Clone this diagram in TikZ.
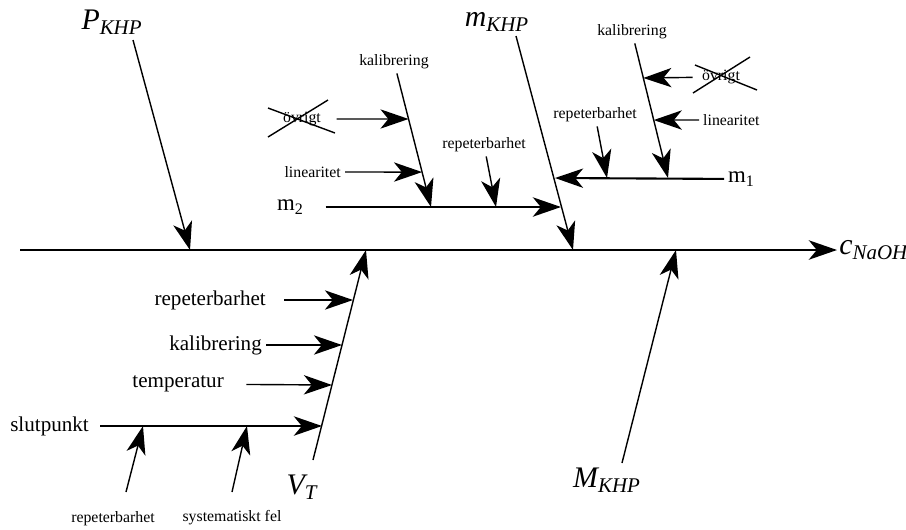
\documentclass[tikz,border=0pt]{standalone}
\usepackage{fontspec}
\setmainfont{Liberation Serif}
\usetikzlibrary{arrows.meta, calc}

\begin{document}
\begin{tikzpicture}[
    x=0.02cm, y=-0.02cm,
    line width=0.8pt,
    cause/.style={-{Stealth[length=16pt, width=11pt, inset=4.5pt]}},
    axis/.style={line width=1.4pt},
    thickline/.style={line width=1.2pt},
    eff/.style={font=\fontsize{17}{20}\selectfont\itshape, inner sep=1pt},
    lbl/.style={font=\fontsize{12}{14}\selectfont, inner sep=2pt},
    mlbl/.style={font=\fontsize{13}{15}\selectfont, inner sep=2pt},
    slbl/.style={font=\fontsize{9}{11}\selectfont, inner sep=2pt}
]
    \useasboundingbox (0,0) rectangle (906,529);

    % ================= EFFECTS =================
    \node[eff] (P)  at (112,22)  {P\textsubscript{KHP}};
    \node[eff] (mK) at (497,22)  {m\textsubscript{KHP}};
    \node[eff] (VT) at (302,487) {V\textsubscript{T}};
    \node[eff] (MK) at (607,480) {M\textsubscript{KHP}};
    \node[eff, anchor=west] (c) at (837,250) {c\textsubscript{NaOH}};

    \coordinate (axL) at (20,250);
    \coordinate (pT) at (133,40);  \coordinate (pH) at (190,250);
    \coordinate (mT) at (516,36);  \coordinate (mH) at (573,250);
    \coordinate (vT) at (313,460); \coordinate (vH) at (366,250);
    \coordinate (MT) at (622,463); \coordinate (MH) at (676,250);

    % ================= MAIN LINE =================
    \draw[axis, cause] (axL) -- (c.west);
    \draw[cause] (pT) -- (pH);
    \draw[cause] (mT) -- (mH);
    \draw[cause] (vT) -- (vH);
    \draw[cause] (MT) -- (MH);

    % ================= V_T BRANCH =================
    \coordinate (vRep)  at (353,300);
    \coordinate (vKal)  at (342,345);
    \coordinate (vTemp) at (332,385);
    \coordinate (vSlut) at (322,426);

    \node[lbl, anchor=east] (rep3) at (270,300) {repeterbarhet};
    \node[lbl, anchor=east] (kal3) at (266,345) {kalibrering};
    \node[lbl, anchor=east] (temp) at (228,384) {temperatur};
    \node[lbl, anchor=east] (slut) at (93,426)  {slutpunkt};

    \draw[cause, shorten <=8pt] (rep3) -- (vRep);
    \draw[cause] (kal3) -- (vKal);
    \draw[cause, shorten <=10.5pt] (temp) -- (vTemp);
    \draw[cause, thickline, shorten <=4pt] (slut) -- (vSlut);

    % slutpunkt
    \node[slbl] (sRep) at (113,519) {repeterbarhet};
    \node[slbl] (sSys) at (232,518) {systematiskt fel};
    \coordinate (sRepT) at (126,492); \coordinate (sRepH) at (143,426);
    \coordinate (sSysT) at (232,492); \coordinate (sSysH) at (247,426);
    \draw[cause] (sRepT) -- (sRepH);
    \draw[cause] (sSysT) -- (sSysH);

    % ================= m_KHP BRANCH (m_2) =================
    \coordinate (m2H) at (561,207);
    \node[mlbl, anchor=east] (m2) at (308,207) {m\textsubscript{2}};
    \draw[cause, thickline, shorten <=10pt] (m2) -- (m2H);

    \node[slbl] (kal1) at (394,62) {kalibrering};
    \coordinate (k1H) at (431,207);
    \draw[cause] (kal1) -- (k1H);
    \coordinate (k1Ov)  at ($(kal1.center)!0.393!(k1H)$);
    \coordinate (k1Lin) at ($(kal1.center)!0.759!(k1H)$);

    \node[slbl] (ov1) at (302,119) {övrigt};
    \node[slbl, anchor=east] (lin1) at (345,172) {linearitet};
    \draw[cause, shorten <=6.5pt] (ov1) -- (k1Ov);
    \draw[cause] (lin1) -- (k1Lin);
    \draw ($(ov1)+(-34,18)$) -- ($(ov1)+(26,-19)$);
    \draw ($(ov1)+(-34,-11)$) -- ($(ov1)+(33,14)$);

    \node[slbl] (rep1) at (484,145) {repeterbarhet};
    \coordinate (r1H) at (496,207);
    \draw[cause] (rep1) -- (r1H);

    % ================= m_KHP BRANCH (m_1) =================
    \coordinate (m1H) at (555,178);
    \node[mlbl, anchor=west] (m1) at (724,179) {m\textsubscript{1}};
    \draw[cause, thickline] (m1) -- (m1H);

    \node[slbl] (kal2) at (632,32) {kalibrering};
    \coordinate (k2H) at (668,178);
    \draw[cause] (kal2) -- (k2H);
    \coordinate (k2Ov)  at ($(kal2.center)!0.315!(k2H)$);
    \coordinate (k2Lin) at ($(kal2.center)!0.603!(k2H)$);

    \node[slbl] (ov2) at (721,77) {övrigt};
    \node[slbl, anchor=west] (lin2) at (699,120) {linearitet};
    \draw[cause, shorten <=3pt] (ov2) -- (k2Ov);
    \draw[cause] (lin2) -- (k2Lin);
    \draw ($(ov2)+(-28,16)$) -- ($(ov2)+(29,-20)$);
    \draw ($(ov2)+(-26,-12)$) -- ($(ov2)+(36,13)$);

    \node[slbl] (rep2) at (595,115) {repeterbarhet};
    \coordinate (r2H) at (607,178);
    \draw[cause] (rep2) -- (r2H);

\end{tikzpicture}
\end{document}
